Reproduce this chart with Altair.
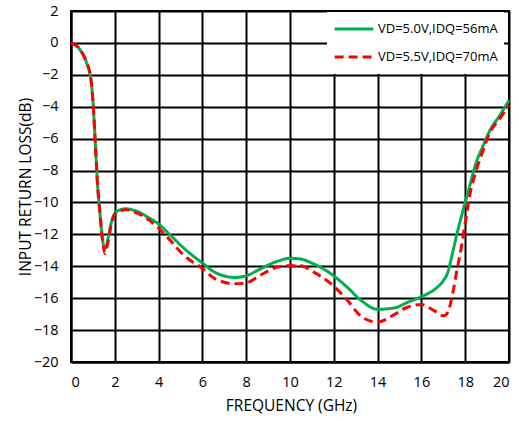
import altair as alt
import pandas as pd

# Frequency points (GHz) shared by both bias conditions
freq = [0, 0.4, 0.7, 0.9, 1.0, 1.1, 1.2, 1.33, 1.45, 1.55, 1.7, 1.85, 2.1, 2.5,
        3.0, 3.6, 4.0, 4.5, 5.1, 6.0, 6.6, 7.5, 8.0, 8.6, 9.4, 10.0, 10.5, 11.0,
        12.0, 12.6, 13.3, 14.0, 14.8, 15.3, 16.0, 16.6, 17.0, 17.2, 17.4, 17.6,
        17.8, 18.0, 18.2, 18.5, 18.8, 19.1, 19.6, 20.0]

# Input return loss (dB), VD=5.0V, IDQ=56mA
rl_50v = [0, -0.4, -1.2, -2.2, -3.6, -6.0, -8.6, -10.8, -12.4, -12.9, -12.2,
          -11.2, -10.55, -10.4, -10.55, -11.0, -11.35, -12.0, -12.8, -13.8,
          -14.4, -14.7, -14.6, -14.2, -13.7, -13.5, -13.55, -13.8, -14.6,
          -15.3, -16.2, -16.7, -16.6, -16.3, -15.9, -15.45, -14.9, -14.4,
          -13.3, -12.1, -11.0, -10.0, -9.0, -7.5, -6.5, -5.56, -4.5, -3.6]

# Input return loss (dB), VD=5.5V, IDQ=70mA
rl_55v = [0, -0.4, -1.2, -2.2, -3.6, -6.0, -8.6, -10.8, -12.5, -13.2, -12.4,
          -11.3, -10.6, -10.45, -10.65, -11.14, -11.6, -12.33, -13.25, -14.14,
          -14.8, -15.1, -15.05, -14.6, -14.06, -13.96, -13.97, -14.3, -15.25,
          -16.1, -17.2, -17.5, -17.0, -16.6, -16.4, -16.8, -17.1, -16.9,
          -15.9, -14.4, -13.0, -11.3, -9.6, -8.0, -6.8, -5.7, -4.7, -3.9]

series_names = ["VD=5.0V,IDQ=56mA", "VD=5.5V,IDQ=70mA"]
series_colors = ["#00B050", "#FF0000"]
series_dash = [[1, 0], [9, 5]]

x_ticks = list(range(0, 21, 2))
y_ticks = list(range(-20, 3, 2))

rows = []
for name, vals in zip(series_names, [rl_50v, rl_55v]):
    for f, v in zip(freq, vals):
        rows.append({"freq": f, "rl": v, "series": name})
df = pd.DataFrame(rows)

FONT = "Open Sans"
INK = "#000000"

chart = (
    alt.Chart(df)
    .mark_line(strokeWidth=3, interpolate="monotone")
    .encode(
        x=alt.X(
            "freq:Q",
            scale=alt.Scale(domain=[0, 20], nice=False, zero=False),
            axis=alt.Axis(
                values=x_ticks,
                title="FREQUENCY (GHz)",
                titleX=220,
                titleY=43,
                titleBaseline="middle",
                labelBaseline="middle",
                labelPadding=20,
            ),
        ),
        y=alt.Y(
            "rl:Q",
            scale=alt.Scale(domain=[-20, 2], nice=False, zero=False),
            axis=alt.Axis(
                values=y_ticks,
                title="INPUT RETURN LOSS(dB)",
                titleX=-46,
                titleY=175.5,
                titleAngle=-90,
                titleBaseline="middle",
                titleAlign="center",
                labelPadding=13,
            ),
        ),
        color=alt.Color(
            "series:N",
            scale=alt.Scale(domain=series_names, range=series_colors),
            legend=alt.Legend(title=None),
        ),
        strokeDash=alt.StrokeDash(
            "series:N",
            scale=alt.Scale(domain=series_names, range=series_dash),
            legend=alt.Legend(title=None),
        ),
        order=alt.Order("freq:Q"),
    )
    .properties(
        width=438,
        height=351,
        autosize=alt.AutoSizeParams(type="none"),
        padding={"left": 71, "top": 11, "right": 10, "bottom": 59},
    )
    .configure_view(stroke=INK, strokeWidth=2)
    .configure_axis(
        grid=True,
        gridColor=INK,
        gridWidth=2,
        gridOpacity=1,
        domainColor=INK,
        domainWidth=2,
        ticks=False,
        tickSize=0,
        labelFont=FONT,
        labelFontSize=14.5,
        labelColor=INK,
        titleFont=FONT,
        titleFontSize=15.5,
        titleFontWeight="normal",
        titleColor=INK,
    )
    .configure_legend(
        orient="none",
        legendX=256,
        legendY=1,
        fillColor="white",
        padding=6,
        symbolType="stroke",
        symbolSize=1500,
        symbolStrokeWidth=3,
        clipHeight=22,
        rowPadding=6,
        labelOffset=3,
        labelFont=FONT,
        labelFontSize=13,
        labelColor=INK,
        labelLimit=300,
    )
)

chart.save("out.html", embed_options={"renderer": "svg", "actions": False})
